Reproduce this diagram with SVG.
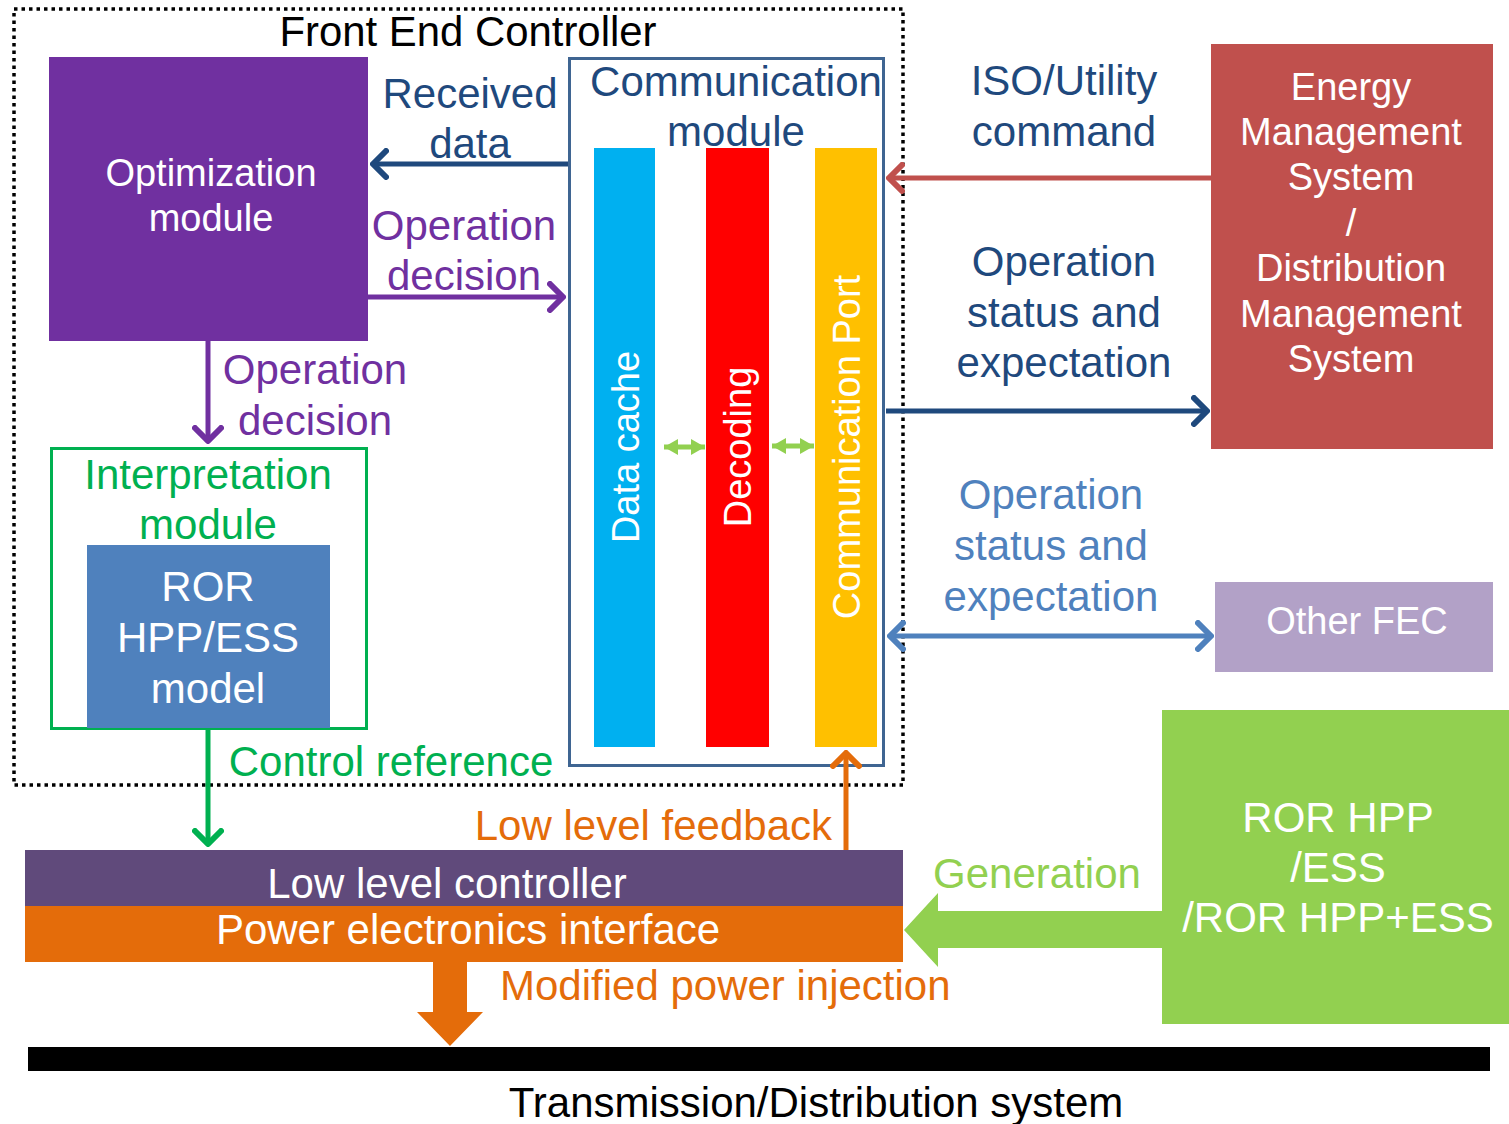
<svg xmlns="http://www.w3.org/2000/svg" width="1509" height="1124" viewBox="0 0 1509 1124">
<style>
text{font-family:"Liberation Sans",Arial,sans-serif;text-anchor:middle}
.w{fill:#fff}
.f42{font-size:42px}
.f38{font-size:38px}
.ln{fill:none;stroke-width:5}
</style>
<defs>
<marker id="chDB" markerUnits="userSpaceOnUse" viewBox="-16 -16 19 32" markerWidth="19" markerHeight="32" refX="0" refY="0" orient="auto-start-reverse"><path d="M-13,-13 L0,0 L-13,13" fill="none" stroke="#1F497D" stroke-width="6" stroke-linecap="round" stroke-linejoin="round"/></marker>
<marker id="chPU" markerUnits="userSpaceOnUse" viewBox="-16 -16 19 32" markerWidth="19" markerHeight="32" refX="0" refY="0" orient="auto-start-reverse"><path d="M-13,-13 L0,0 L-13,13" fill="none" stroke="#7030A0" stroke-width="6" stroke-linecap="round" stroke-linejoin="round"/></marker>
<marker id="chRD" markerUnits="userSpaceOnUse" viewBox="-16 -16 19 32" markerWidth="19" markerHeight="32" refX="0" refY="0" orient="auto-start-reverse"><path d="M-13,-13 L0,0 L-13,13" fill="none" stroke="#C0504D" stroke-width="6" stroke-linecap="round" stroke-linejoin="round"/></marker>
<marker id="chLB" markerUnits="userSpaceOnUse" viewBox="-16 -16 19 32" markerWidth="19" markerHeight="32" refX="0" refY="0" orient="auto-start-reverse"><path d="M-13,-13 L0,0 L-13,13" fill="none" stroke="#4F81BD" stroke-width="6" stroke-linecap="round" stroke-linejoin="round"/></marker>
<marker id="chGN" markerUnits="userSpaceOnUse" viewBox="-16 -16 19 32" markerWidth="19" markerHeight="32" refX="0" refY="0" orient="auto-start-reverse"><path d="M-13,-13 L0,0 L-13,13" fill="none" stroke="#00B050" stroke-width="6" stroke-linecap="round" stroke-linejoin="round"/></marker>
<marker id="chOR" markerUnits="userSpaceOnUse" viewBox="-16 -16 19 32" markerWidth="19" markerHeight="32" refX="0" refY="0" orient="auto-start-reverse"><path d="M-13,-13 L0,0 L-13,13" fill="none" stroke="#E46C0A" stroke-width="6" stroke-linecap="round" stroke-linejoin="round"/></marker>
<marker id="trLG" markerUnits="userSpaceOnUse" viewBox="-14 -9 14 18" markerWidth="14" markerHeight="18" refX="0" refY="0" orient="auto-start-reverse"><path d="M-14,-8 L0,0 L-14,8 Z" fill="#92D050"/></marker>
</defs>

<g id="fec-boundary">
<rect x="14" y="9" width="889" height="776" fill="none" stroke="#000" stroke-width="3.5" stroke-dasharray="3.5 4"/>
<text x="468" y="46" class="f42" textLength="377" lengthAdjust="spacingAndGlyphs">Front End Controller</text>
</g>

<g id="optimization-module">
<rect x="49" y="57" width="319" height="284" fill="#7030A0"/>
<text x="211" y="186" class="f38 w">Optimization</text>
<text x="211" y="231" class="f38 w">module</text>
</g>

<g id="communication-module">
<rect x="569.5" y="58.5" width="314" height="707" fill="none" stroke="#3F6592" stroke-width="3"/>
<text x="736" y="96" class="f42" fill="#1F497D">Communication</text>
<text x="736" y="146" class="f42" fill="#1F497D">module</text>
</g>

<g id="data-cache">
<rect x="594" y="148" width="61" height="599" fill="#00B0F0"/>
<text transform="translate(639 447) rotate(-90)" class="f38 w">Data cache</text>
</g>
<g id="decoding">
<rect x="706" y="148" width="63" height="599" fill="#FF0000"/>
<text transform="translate(751 447) rotate(-90)" class="f38 w">Decoding</text>
</g>
<g id="communication-port">
<rect x="815" y="148" width="62" height="599" fill="#FFC000"/>
<text transform="translate(860 447) rotate(-90)" class="f38 w">Communication Port</text>
</g>

<g id="interpretation-module">
<rect x="51.5" y="448.5" width="315" height="280" fill="none" stroke="#00B050" stroke-width="3"/>
<text x="208" y="489" class="f42" fill="#00B050">Interpretation</text>
<text x="208" y="539" class="f42" fill="#00B050">module</text>
</g>
<g id="ror-model">
<rect x="87" y="545" width="243" height="183" fill="#4F81BD"/>
<text x="208" y="601" class="f42 w">ROR</text>
<text x="208" y="652" class="f42 w">HPP/ESS</text>
<text x="208" y="703" class="f42 w">model</text>
</g>

<g id="ems-dms">
<rect x="1211" y="44" width="282" height="405" fill="#C0504D"/>
<text x="1351" y="100" class="f38 w">Energy</text>
<text x="1351" y="145" class="f38 w">Management</text>
<text x="1351" y="190" class="f38 w">System</text>
<text x="1351" y="236" class="f38 w">/</text>
<text x="1351" y="281" class="f38 w">Distribution</text>
<text x="1351" y="327" class="f38 w">Management</text>
<text x="1351" y="372" class="f38 w">System</text>
</g>

<g id="other-fec">
<rect x="1215" y="582" width="278" height="90" fill="#B2A1C7"/>
<text x="1357" y="634" class="f38 w">Other FEC</text>
</g>

<g id="ror-hpp-ess">
<rect x="1162" y="710" width="347" height="314" fill="#92D050"/>
<text x="1338" y="832" class="f42 w">ROR HPP</text>
<text x="1338" y="882" class="f42 w">/ESS</text>
<text x="1338" y="932" class="f42 w">/ROR HPP+ESS</text>
</g>

<g id="low-level-controller">
<rect x="25" y="850" width="878" height="56" fill="#604A7B"/>
<text x="447" y="898" class="f42 w">Low level controller</text>
</g>
<g id="power-electronics-interface">
<rect x="25" y="906" width="878" height="56" fill="#E46C0A"/>
<text x="468" y="944" class="f42 w">Power electronics interface</text>
</g>

<g id="transmission-system">
<rect x="28" y="1047" width="1462" height="24" fill="#000"/>
<text x="816" y="1117" class="f42">Transmission/Distribution system</text>
</g>

<g id="connectors">
<line x1="568" y1="164" x2="373" y2="164" class="ln" stroke="#1F497D" marker-end="url(#chDB)"/>
<text x="470" y="108" class="f42" fill="#1F497D">Received</text>
<text x="470" y="158" class="f42" fill="#1F497D">data</text>

<line x1="368" y1="297" x2="563" y2="297" class="ln" stroke="#7030A0" marker-end="url(#chPU)"/>
<text x="464" y="240" class="f42" fill="#7030A0">Operation</text>
<text x="464" y="290" class="f42" fill="#7030A0">decision</text>

<line x1="208" y1="341" x2="208" y2="441" class="ln" stroke="#7030A0" marker-end="url(#chPU)"/>
<text x="315" y="384" class="f42" fill="#7030A0">Operation</text>
<text x="315" y="435" class="f42" fill="#7030A0">decision</text>

<line x1="208" y1="729" x2="208" y2="844" class="ln" stroke="#00B050" marker-end="url(#chGN)"/>
<text x="391" y="776" class="f42" fill="#00B050">Control reference</text>

<line x1="846" y1="850" x2="846" y2="753" class="ln" stroke="#E46C0A" marker-end="url(#chOR)"/>
<text x="832" y="840" class="f42" fill="#E46C0A" style="text-anchor:end">Low level feedback</text>

<polygon points="433,962 467,962 467,1012 483,1012 450,1046 417,1012 433,1012" fill="#E46C0A"/>
<text x="500" y="1000" class="f42" fill="#E46C0A" style="text-anchor:start">Modified power injection</text>

<line x1="664" y1="447" x2="705" y2="447" stroke="#92D050" stroke-width="5" marker-start="url(#trLG)" marker-end="url(#trLG)"/>
<line x1="772" y1="446" x2="814" y2="446" stroke="#92D050" stroke-width="5" marker-start="url(#trLG)" marker-end="url(#trLG)"/>

<line x1="1211" y1="178" x2="889" y2="178" class="ln" stroke="#C0504D" marker-end="url(#chRD)"/>
<text x="1064" y="95" class="f42" fill="#1F497D">ISO/Utility</text>
<text x="1064" y="146" class="f42" fill="#1F497D">command</text>

<line x1="886" y1="411" x2="1207" y2="411" class="ln" stroke="#1F497D" marker-end="url(#chDB)"/>
<text x="1064" y="276" class="f42" fill="#1F497D">Operation</text>
<text x="1064" y="327" class="f42" fill="#1F497D">status and</text>
<text x="1064" y="377" class="f42" fill="#1F497D">expectation</text>

<line x1="890" y1="636" x2="1211" y2="636" class="ln" stroke="#4F81BD" marker-start="url(#chLB)" marker-end="url(#chLB)"/>
<text x="1051" y="509" class="f42" fill="#4F81BD">Operation</text>
<text x="1051" y="560" class="f42" fill="#4F81BD">status and</text>
<text x="1051" y="611" class="f42" fill="#4F81BD">expectation</text>

<polygon points="1162,911 938,911 938,893 904,930 938,967 938,948 1162,948" fill="#92D050"/>
<text x="1037" y="888" class="f42" fill="#92D050">Generation</text>
</g>
</svg>
